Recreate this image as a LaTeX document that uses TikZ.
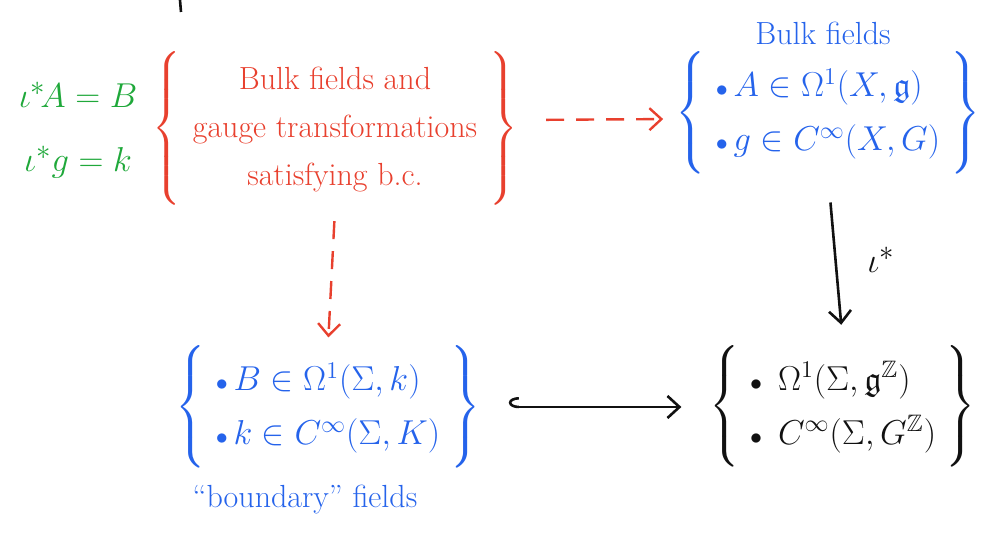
\documentclass[tikz,border=0pt]{standalone}
\usepackage{amsmath, amssymb}
\usetikzlibrary{positioning, calc, arrows.meta}
\definecolor{Ink}{HTML}{111111}
\definecolor{Cond}{HTML}{1FA83A}
\definecolor{Bulk}{HTML}{E8402E}
\definecolor{Field}{HTML}{2563EB}
\newcommand{\pt}{{\scriptstyle\bullet}\,}
\tikzset{
    setnode/.style={inner sep=0pt, align=center, font=\fontsize{17}{27}\selectfont},
    labelnode/.style={inner sep=1pt, font=\fontsize{16}{20}\selectfont, text=Field},
    dasharrow/.style={-{Straight Barb[length=6pt,width=11pt]}, line width=1.2pt, dash pattern=on 9pt off 6pt, color=Bulk},
    maparrow/.style={-{Straight Barb[length=6pt,width=11pt]}, line width=1.3pt, color=Ink},
}

\begin{document}
\begin{tikzpicture}[x=0.5pt, y=-0.5pt]
    \useasboundingbox (0,0) rectangle (981,534);
    % Rand oben
    \draw[line width=1.3pt, Ink] (180,0) -- (181,12);

    % Bedingungen
    \node[inner sep=0pt, align=center, text=Cond, font=\fontsize{19}{30}\selectfont] (cond) at (78,130)
        {$\iota^*\!A = B$\\[2pt]$\iota^*g = k$};

    % Mengen
    \node[setnode, text=Bulk, font=\fontsize{16}{24}\selectfont] (bulkgt) at (335,130)
        {$\left\{\vrule height 42pt depth 36pt width 0pt\text{\begin{tabular}{c}Bulk fields and\\gauge transformations\\satisfying b.c.\end{tabular}}\right\}$};
    \node[setnode, text=Field] (bulk) at (828,113)
        {$\left\{\vrule height 31pt depth 25pt width 0pt\begin{array}{l}\pt A \in \Omega^1(X,\mathfrak{g})\\ \pt g \in C^\infty(X,G)\end{array}\right\}$};
    \node[setnode, text=Field] (bdry) at (328,407)
        {$\left\{\vrule height 31pt depth 25pt width 0pt\begin{array}{l}\pt B \in \Omega^1(\Sigma,k)\\ \pt k \in C^\infty(\Sigma,K)\end{array}\right\}$};
    \node[setnode, text=Ink] (restr) at (843,407)
        {$\left\{\vrule height 33pt depth 27pt width 0pt\begin{array}{l}\pt\ \Omega^1(\Sigma,\mathfrak{g}^{\mathbb{Z}})\\ \pt\ C^\infty(\Sigma,G^{\mathbb{Z}})\end{array}\right\}$};

    % Beschriftungen
    \node[labelnode] (bulklbl) at (823,33) {Bulk fields};
    \node[labelnode] (bdrylbl) at (305,500) {``boundary'' fields};

    % Pfeile
    \draw[dasharrow, shorten <=14pt, shorten >=6pt] ($(bulkgt.east)+(0,-10)$) -- ($(bulk.west)+(0,6)$);
    \draw[dasharrow, shorten <=6pt, shorten >=4pt] (bulkgt.south) -- (bdry.north);
    \draw[maparrow, shorten <=14pt, shorten >=10pt] (bulk.south) -- node[right=12pt, font=\fontsize{19}{20}\selectfont] {$\iota^*$} (restr.north);
    \draw[maparrow, {Hooks[right,length=5pt,width=10pt]}-{Straight Barb[length=6pt,width=11pt]}, shorten <=14pt, shorten >=14pt] (bdry.east) -- (restr.west);
\end{tikzpicture}
\end{document}
